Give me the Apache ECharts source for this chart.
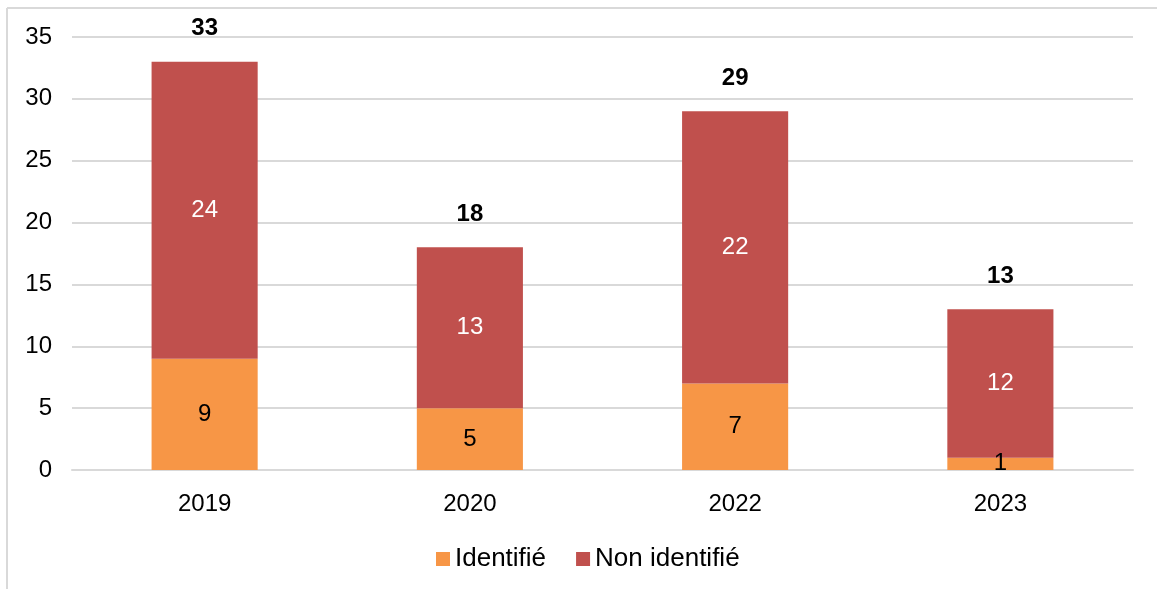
<!DOCTYPE html>
<html>
<head>
<meta charset="utf-8">
<script src="https://cdn.jsdelivr.net/npm/echarts@6/dist/echarts.min.js"></script>
<style>
  html, body { margin: 0; padding: 0; background: #fff; }
  #chart { width: 1157px; height: 589px; }
</style>
</head>
<body>
<div id="chart"></div>
<script>
// data
const years = ['2019', '2020', '2022', '2023']
const identifie = [9, 5, 7, 1]
const nonIdentifie = [24, 13, 22, 12]
const totals = [33, 18, 29, 13]
const yTicks = { min: 0, max: 35, interval: 5 }

const chart = echarts.init(document.getElementById('chart'))
const font = 'Liberation Sans, Arial, sans-serif'

let option = {
  animation: false,
  backgroundColor: '#fff',
  graphic: [
    // frame of the original chart area (top and left edges visible)
    { type: 'line', shape: { x1: 7, y1: 8, x2: 1157, y2: 8 }, style: { stroke: '#d9d9d9', lineWidth: 2 } },
    { type: 'line', shape: { x1: 7, y1: 8, x2: 7, y2: 589 }, style: { stroke: '#d9d9d9', lineWidth: 2 } }
  ],
  grid: { left: 72, right: 24, top: 37, bottom: 119 },
  legend: {
    top: 541,
    left: 431,
    itemWidth: 14,
    itemHeight: 14,
    itemGap: 30,
    icon: 'rect',
    textStyle: { fontFamily: font, fontSize: 26, color: '#000' },
    data: ['Identifié', 'Non identifié']
  },
  xAxis: {
    type: 'category',
    data: years,
    axisLine: { lineStyle: { color: '#d9d9d9', width: 2 } },
    axisTick: { show: false },
    axisLabel: { fontFamily: font, fontSize: 24, color: '#000', margin: 22 }
  },
  yAxis: {
    type: 'value',
    min: yTicks.min,
    max: yTicks.max,
    interval: yTicks.interval,
    axisLine: { show: false },
    axisTick: { show: false },
    splitLine: { lineStyle: { color: '#d9d9d9', width: 2 } },
    axisLabel: { fontFamily: font, fontSize: 24, color: '#000', margin: 20 }
  },
  series: [
    {
      name: 'Identifié',
      type: 'bar',
      stack: 'total',
      barWidth: '40%',
      data: identifie,
      itemStyle: { color: '#F79646' },
      label: { show: true, position: 'inside', fontFamily: font, fontSize: 24, color: '#000' }
    },
    {
      name: 'Non identifié',
      type: 'bar',
      stack: 'total',
      data: nonIdentifie,
      itemStyle: { color: '#C0504D' },
      label: { show: true, position: 'inside', fontFamily: font, fontSize: 24, color: '#fff' }
    },
    {
      name: 'Total',
      type: 'scatter',
      data: totals,
      symbolSize: 0,
      silent: true,
      itemStyle: { opacity: 1 },
      label: {
        show: true,
        position: 'top',
        distance: 21,
        fontFamily: font,
        fontSize: 24,
        fontWeight: 'bold',
        color: '#000'
      }
    }
  ]
}
chart.setOption(option)
</script>
</body>
</html>
